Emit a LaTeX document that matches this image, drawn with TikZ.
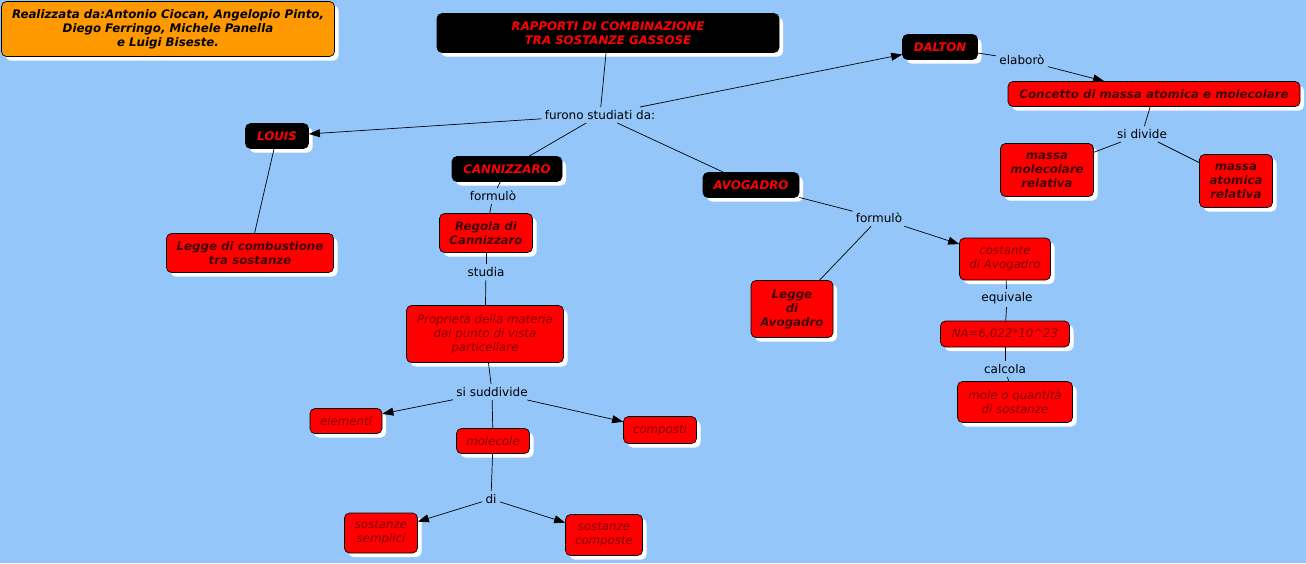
\documentclass[tikz,border=0pt]{standalone}
\usepackage{fontspec}
\setmainfont{DejaVu Sans}
\usetikzlibrary{shadows,arrows.meta}
\definecolor{sfondo}{RGB}{148,198,250}
\definecolor{arancio}{RGB}{255,153,0}
\definecolor{scuro}{RGB}{130,0,0}
\tikzset{
box/.style={rectangle,rounded corners=5pt,draw=black,line width=0.7pt,align=center,
  inner sep=2pt,font=\fontsize{11.8}{14}\selectfont\bfseries\itshape,
  drop shadow={shadow xshift=4pt,shadow yshift=-4pt,fill=white,opacity=1}},
nome/.style={box,fill=black,text=red},
concetto/.style={box,fill=red,text=scuro!50!black},
corsivo/.style={box,fill=red,text=scuro,font=\fontsize{11.8}{14}\selectfont\itshape},
lbl/.style={inner sep=3pt,font=\fontsize{12}{14}\selectfont}
}
\begin{document}
\begin{tikzpicture}[x=1pt,y=-1pt,>={Triangle[length=11pt,width=8pt]},line width=0.7pt]
\fill[sfondo] (0,0) rectangle (1306,563);
\useasboundingbox (0,0) rectangle (1306,563);
% nodi principali
\node[box,fill=arancio,text=black,minimum width=333pt,minimum height=55pt] (AU) at(168,29) {Realizzata da:Antonio Ciocan, Angelopio Pinto,\\Diego Ferringo, Michele Panella\\e Luigi Biseste.};
\node[nome,minimum width=342pt,minimum height=39pt] (TI) at(608,33) {RAPPORTI DI COMBINAZIONE\\TRA SOSTANZE GASSOSE};
\node[lbl] (ST) at(600,115) {furono studiati da:};
\node[nome,minimum width=63pt,minimum height=25pt] (LO) at(277,136) {LOUIS};
\node[nome,minimum width=75pt,minimum height=25pt] (DA) at(940,47) {DALTON};
\node[nome,minimum width=110pt,minimum height=25pt] (CA) at(507,169) {CANNIZZARO};
\node[nome,minimum width=96pt,minimum height=25pt] (AV) at(751,185) {AVOGADRO};
% Dalton
\node[lbl] (EL) at(1022,60) {elaborò};
\node[concetto,minimum width=292pt,minimum height=25pt] (CO) at(1154,94) {Concetto di massa atomica e molecolare};
\node[lbl] (SD) at(1142,134) {si divide};
\node[concetto,minimum width=93pt,minimum height=53pt] (MM) at(1047,170) {massa\\molecolare\\relativa};
\node[concetto,minimum width=73pt,minimum height=53pt] (MA) at(1236,181) {massa\\atomica\\relativa};
% Louis
\node[concetto,minimum width=167pt,minimum height=39pt] (LC) at(250,253) {Legge di combustione\\tra sostanze};
% Cannizzaro
\node[lbl] (F1) at(493,196) {formulò};
\node[concetto,minimum width=93pt,minimum height=39pt] (RC) at(486,233) {Regola di\\Cannizzaro};
\node[lbl] (SU) at(486,272) {studia};
\node[corsivo,minimum width=157pt,minimum height=57pt] (PM) at(485,334) {Proprietà della materia\\dal punto di vista\\particellare};
\node[lbl] (SS) at(492,392) {si suddivide};
\node[corsivo,minimum width=72pt,minimum height=25pt] (EM) at(346,421) {elementi};
\node[corsivo,minimum width=73pt,minimum height=25pt] (MO) at(493,441) {molecole};
\node[corsivo,minimum width=73pt,minimum height=27pt] (CP) at(660,430) {composti};
\node[lbl] (DI) at(491,499) {di};
\node[corsivo,minimum width=73pt,minimum height=40pt] (SE) at(381,533) {sostanze\\semplici};
\node[corsivo,minimum width=77pt,minimum height=41pt] (SC) at(604,535) {sostanze\\composte};
% Avogadro
\node[lbl] (F2) at(879,218) {formulò};
\node[concetto,minimum width=82pt,minimum height=57pt] (LA) at(792,309) {Legge\\di\\Avogadro};
\node[corsivo,minimum width=91pt,minimum height=42pt] (CS) at(1005,259) {costante\\di Avogadro};
\node[lbl] (EQ) at(1007,298) {equivale};
\node[corsivo,minimum width=129pt,minimum height=26pt] (NA) at(1005,334) {NA=6,022*10\^{}23};
\node[lbl] (CL) at(1005,369) {calcola};
\node[corsivo,minimum width=115pt,minimum height=41pt] (ML) at(1015,402) {mole o quantità\\di sostanze};
% collegamenti
\draw (TI) -- (ST);
\draw[->] (ST) -- (LO);
\draw[->] (ST) -- (DA);
\draw (ST) -- (CA);
\draw (ST) -- (AV);
\draw (DA) -- (EL);
\draw[->] (EL) -- (CO);
\draw (CO) -- (SD);
\draw (SD) -- (MM);
\draw (SD) -- (MA);
\draw (LO) -- (LC);
\draw (CA) -- (F1);
\draw (F1) -- (RC);
\draw (RC) -- (SU);
\draw (SU) -- (PM);
\draw (PM) -- (SS);
\draw[->] (SS) -- (EM);
\draw[->] (SS) -- (CP);
\draw (SS) -- (MO);
\draw (MO) -- (DI);
\draw[->] (DI) -- (SE);
\draw[->] (DI) -- (SC);
\draw (AV) -- (F2);
\draw (F2) -- (LA);
\draw[->] (F2) -- (CS);
\draw (CS) -- (EQ);
\draw (EQ) -- (NA);
\draw (NA) -- (CL);
\draw (CL) -- (ML);
\end{tikzpicture}
\end{document}
